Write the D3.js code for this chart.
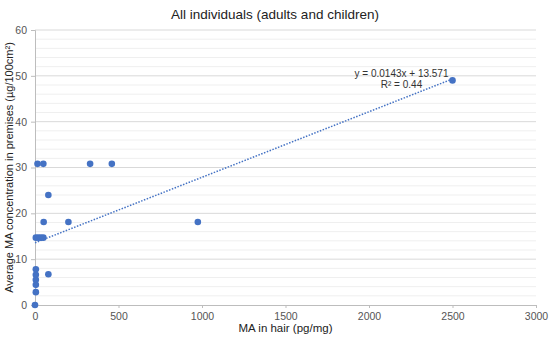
<!DOCTYPE html>
<html>
<head>
<meta charset="utf-8">
<script src="https://cdn.jsdelivr.net/npm/d3@7"></script>
<style>
  body { margin: 0; background: #fff; }
  text { font-family: "Liberation Sans", Arial, sans-serif; }
</style>
</head>
<body>
<div id="chart"></div>
<script>
// Values
const hairMA = [0, 5, 5, 5, 5, 5, 80, 5, 20, 35, 50, 52, 200, 975, 80, 15, 50, 330, 460, 2500];
const premisesMA = [0, 2.8, 4.4, 5.5, 6.6, 7.8, 6.7, 14.7, 14.7, 14.7, 14.7, 18.1, 18.1, 18.1, 24, 30.8, 30.8, 30.8, 30.8, 49];
const xTicks = [0, 500, 1000, 1500, 2000, 2500, 3000];
const yTicks = [0, 10, 20, 30, 40, 50, 60];
const trendSlope = 0.0143, trendIntercept = 13.571, rSquared = 0.44;

const margin = { top: 30, right: 14, bottom: 37, left: 35 },
    width = 550 - margin.left - margin.right,
    height = 342 - margin.top - margin.bottom;

const svgRoot = d3.select("#chart")
    .append("svg")
    .attr("width", 550)
    .attr("height", 342);

const svg = svgRoot.append("g")
    .attr("transform", `translate(${margin.left},${margin.top})`);

const x = d3.scaleLinear().domain([0, 3000]).range([0, width]);
const y = d3.scaleLinear().domain([0, 60]).range([height, 0]);

// minor gridlines every 2, major every 10
svg.append("g")
    .selectAll("line")
    .data(d3.range(2, 60, 2).filter(v => v % 10 !== 0))
    .enter().append("line")
    .attr("x1", 0).attr("x2", width)
    .attr("y1", d => y(d)).attr("y2", d => y(d))
    .attr("stroke", "#efefef");

svg.append("g")
    .selectAll("line")
    .data(yTicks.slice(1))
    .enter().append("line")
    .attr("x1", 0).attr("x2", width)
    .attr("y1", d => y(d)).attr("y2", d => y(d))
    .attr("stroke", "#d9d9d9");

// axes
const xAxis = svg.append("g")
    .attr("transform", `translate(0,${height})`)
    .call(d3.axisBottom(x).tickValues(xTicks).tickFormat(d3.format("d")).tickSize(3).tickPadding(5));
const yAxis = svg.append("g")
    .call(d3.axisLeft(y).tickValues(yTicks).tickFormat(d3.format("d")).tickSize(4).tickPadding(4));

[xAxis, yAxis].forEach(a => {
    a.select(".domain").attr("stroke", "#bdbdbd");
    a.selectAll(".tick line").attr("stroke", "#bdbdbd");
    a.selectAll("text")
        .style("font-family", "'Liberation Sans', Arial, sans-serif")
        .style("font-size", "10.5px")
        .attr("fill", "#555");
});

// trendline
const xMax = d3.max(hairMA);
svg.append("line")
    .attr("x1", x(0)).attr("y1", y(trendIntercept))
    .attr("x2", x(xMax)).attr("y2", y(trendSlope * xMax + trendIntercept))
    .attr("stroke", "#4472c4")
    .attr("stroke-width", 1.5)
    .attr("stroke-dasharray", "1.5,1.5");

// points
svg.append("g")
    .selectAll("circle")
    .data(hairMA.map((h, i) => ({ h, p: premisesMA[i] })))
    .enter().append("circle")
    .attr("cx", d => x(d.h))
    .attr("cy", d => y(d.p))
    .attr("r", 3.3)
    .attr("fill", "#4472c4");

// equation label
const eq = svg.append("text")
    .attr("x", x(2500) - 51)
    .attr("y", 47)
    .attr("text-anchor", "middle")
    .style("font-size", "10px")
    .attr("fill", "#333");
eq.append("tspan").attr("x", x(2500) - 51).text(`y = ${trendSlope}x + ${trendIntercept}`);
eq.append("tspan").attr("x", x(2500) - 51).attr("dy", 11).text(`R² = ${rSquared}`);

// title and axis labels
svgRoot.append("text")
    .attr("x", 275)
    .attr("y", 19)
    .attr("text-anchor", "middle")
    .style("font-size", "13.5px")
    .attr("fill", "#222")
    .text("All individuals (adults and children)");

svgRoot.append("text")
    .attr("x", margin.left + width / 2)
    .attr("y", 332)
    .attr("text-anchor", "middle")
    .style("font-size", "11.5px")
    .attr("fill", "#222")
    .text("MA in hair (pg/mg)");

svgRoot.append("text")
    .attr("transform", `translate(13,${margin.top + height / 2}) rotate(-90)`)
    .attr("text-anchor", "middle")
    .style("font-size", "11px")
    .attr("fill", "#222")
    .text("Average MA concentration in premises (µg/100cm²)");
</script>
</body>
</html>
